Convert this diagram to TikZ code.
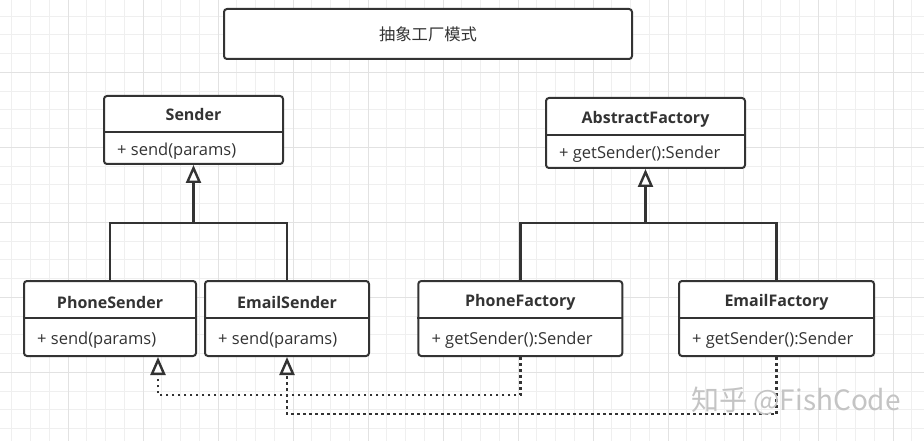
\documentclass[tikz,border=0pt]{standalone}
\usepackage{fontspec}
\setmainfont{Open Sans}
\newfontfamily\cjk{Noto Sans CJK SC}
\usetikzlibrary{arrows.meta}
\definecolor{ink}{HTML}{333333}
\definecolor{gridminor}{HTML}{EFEFEF}
\definecolor{gridmajor}{HTML}{E2E2E2}
\definecolor{wm}{HTML}{C4C4C4}
\tikzset{
  cls/.style={draw=ink, line width=2pt, rounded corners=3pt, fill=white, inner sep=0pt},
  hdr/.style={font=\bfseries\fontsize{16}{18}\selectfont, text=ink, inner sep=0pt},
  mth/.style={font=\fontsize{16.5}{18}\selectfont, text=ink, inner sep=0pt, anchor=west},
  divl/.style={draw=ink, line width=2pt},
  solidl/.style={draw=ink, line width=2.5pt},
  tri/.style={-{Triangle[open, length=18pt, width=15pt, line width=2.4pt]}},
  inh/.style={solidl, tri},
  dep/.style={draw=ink, line width=2.5pt, dash pattern=on 2.5pt off 3.5pt, tri},
}
\begin{document}
\begin{tikzpicture}[x=1pt, y=-1pt]
\useasboundingbox (0,0) rectangle (924,441);
% grid
\foreach \i in {0,...,49} {
  \draw[gridminor, line width=0.8pt] ({11.7+18.75*\i},0) -- ({11.7+18.75*\i},441);
}
\foreach \i in {0,...,23} {
  \draw[gridminor, line width=0.8pt] (0,{16+18.75*\i}) -- (924,{16+18.75*\i});
}
\foreach \i in {0,...,12} {
  \draw[gridmajor, line width=0.9pt] ({-6.7+75*\i},0) -- ({-6.7+75*\i},441);
}
\foreach \i in {0,...,6} {
  \draw[gridmajor, line width=0.9pt] (0,{-2.7+75*\i}) -- (924,{-2.7+75*\i});
}
% title
\node[cls, minimum width=408pt, minimum height=50pt] (title) at (428,34) {};
\node[text=ink, font=\cjk\fontsize{16.3}{18}\selectfont] (titletext) at (title.center) {抽象工厂模式};
% Sender
\node[cls, minimum width=179pt, minimum height=68pt] (sender) at (193.5,130) {};
\draw[divl] ([yshift=-37pt]sender.north west) -- ([yshift=-37pt]sender.north east);
\node[hdr] (senderh) at ([yshift=-20pt]sender.north) {Sender};
\node[mth] (senderm) at ([xshift=14pt, yshift=-56pt]sender.north west) {+\ send(params)};
% AbstractFactory
\node[cls, minimum width=199pt, minimum height=70pt] (af) at (645.5,133) {};
\draw[divl] ([yshift=-38pt]af.north west) -- ([yshift=-38pt]af.north east);
\node[hdr] (afh) at ([yshift=-22.5pt]af.north) {AbstractFactory};
\node[mth] (afm) at ([xshift=14pt, yshift=-57pt]af.north west) {+\ getSender():Sender};
% PhoneSender
\node[cls, minimum width=172pt, minimum height=75pt] (ps) at (110,318.5) {};
\draw[divl] ([yshift=-38pt]ps.north west) -- ([yshift=-38pt]ps.north east);
\node[hdr] (psh) at ([yshift=-22.5pt]ps.north) {PhoneSender};
\node[mth] (psm) at ([xshift=14pt, yshift=-60pt]ps.north west) {+\ send(params)};
% EmailSender
\node[cls, minimum width=164pt, minimum height=75pt] (es) at (287,318.5) {};
\draw[divl] ([yshift=-38pt]es.north west) -- ([yshift=-38pt]es.north east);
\node[hdr] (esh) at ([yshift=-22.5pt]es.north) {EmailSender};
\node[mth] (esm) at ([xshift=14pt, yshift=-60pt]es.north west) {+\ send(params)};
% PhoneFactory
\node[cls, minimum width=204pt, minimum height=75pt] (pf) at (520.3,318.5) {};
\draw[divl] ([yshift=-38pt]pf.north west) -- ([yshift=-38pt]pf.north east);
\node[hdr] (pfh) at ([yshift=-22.5pt]pf.north) {PhoneFactory};
\node[mth] (pfm) at ([xshift=14pt, yshift=-60pt]pf.north west) {+\ getSender():Sender};
% EmailFactory
\node[cls, minimum width=195pt, minimum height=75pt] (ef) at (776.5,318.5) {};
\draw[divl] ([yshift=-38pt]ef.north west) -- ([yshift=-38pt]ef.north east);
\node[hdr] (efh) at ([yshift=-22.5pt]ef.north) {EmailFactory};
\node[mth] (efm) at ([xshift=14pt, yshift=-60pt]ef.north west) {+\ getSender():Sender};
% inheritance
\coordinate (jS) at (193.5,223);
\coordinate (jF) at (645.5,223);
\draw[solidl] (ps.north) |- (jS) -| (es.north);
\draw[inh] (jS) -- (sender.south);
\draw[solidl] (pf.north) |- (jF) -| (ef.north);
\draw[inh] (jF) -- (af.south);
% dependencies
\coordinate (psr) at ([xshift=48pt]ps.south);
\coordinate (d1) at (0,395);
\coordinate (d2) at (0,414);
\draw[dep] (pf.south) -- (pf.south |- d1) -| (psr);
\draw[dep] (ef.south) -- (ef.south |- d2) -| (es.south);
% watermark
\node[text=wm, font=\cjk\fontsize{28}{30}\selectfont, inner sep=0pt] (wmark) at (796,401) {知乎 @FishCode};
\end{tikzpicture}
\end{document}
